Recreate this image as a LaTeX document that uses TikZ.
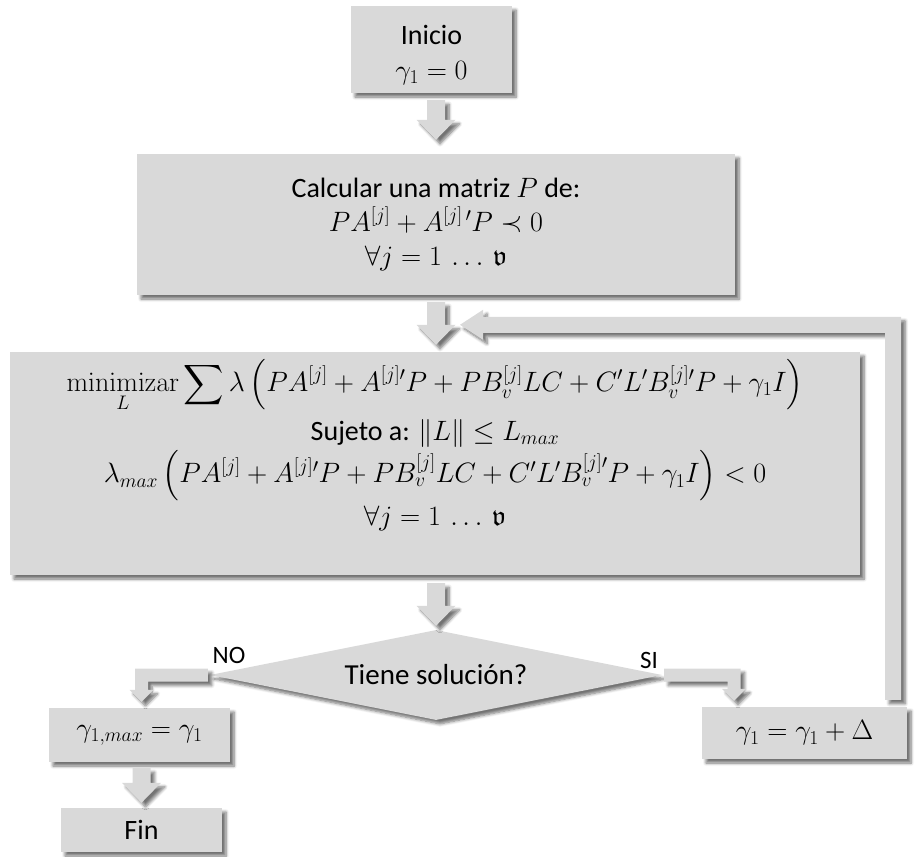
\RequirePackage{fix-cm}
\documentclass[tikz,border=0pt]{standalone}
\usepackage{amsmath,amssymb}
\usepackage[no-math]{fontspec}
\setmainfont{Carlito}
\usetikzlibrary{calc,shapes.geometric,shadows.blur}

% scalable fraktur for the vertex count symbol
\DeclareFontFamily{U}{euf}{}
\DeclareFontShape{U}{euf}{m}{n}{<->eufm10}{}
\DeclareFontShape{U}{euf}{b}{n}{<->eufb10}{}

\definecolor{boxgray}{RGB}{217,217,217}

\tikzset{
  softshadow/.style={blur shadow={shadow xshift=4pt, shadow yshift=-4pt,
      shadow blur radius=3pt, shadow blur steps=6, shadow opacity=55}},
  blk/.style={rectangle, fill=boxgray, softshadow, inner sep=0pt, align=center,
      font=\fontsize{28}{34}\selectfont},
  decision/.style={diamond, fill=boxgray, softshadow, inner sep=0pt, aspect=5,
      minimum width=452pt, minimum height=90pt, font=\fontsize{29}{34}\selectfont},
  arrowfill/.style={fill=boxgray, softshadow},
  lbl/.style={inner sep=0pt, font=\fontsize{25}{30}\selectfont}
}

% straight block arrow pointing down: #1 = top centre, #2 = tip
\newcommand\downblock[2]{%
  \path[arrowfill] let \p1=(#1), \p2=(#2) in
    (\x1-9pt,\y1) -- (\x1+9pt,\y1) -- (\x1+9pt,\y2+20pt) -- (\x1+19.5pt,\y2+20pt)
    -- (\x1,\y2) -- (\x1-19.5pt,\y2+20pt) -- (\x1-9pt,\y2+20pt) -- cycle;}

\begin{document}
\begin{tikzpicture}[x=1pt,y=-1pt]
\useasboundingbox (0,0) rectangle (916,857);

% process boxes
\node[blk, minimum width=161pt, minimum height=87pt] (start) at (431.5,49.5)
  {\rule{0pt}{30pt}Inicio\\[1pt] $\gamma_1=0$};
\node[blk, minimum width=598pt, minimum height=141pt] (calc) at (436,224.5)
  {Calcular una matriz $P$ de:\\
   $PA^{[j]}+A^{[j]\,\prime}P\prec 0$\\
   $\forall j=1\,\ldots\,\mathfrak{v}$};
\node[blk, minimum width=850pt, minimum height=223pt] (mini) at (435,463.5)
  {$\displaystyle\underset{L}{\mathrm{minimizar}}\sum\lambda\left(PA^{[j]}+A^{[j]\prime}P+PB_v^{[j]}LC+C'L'B_v^{[j]\prime}P+\gamma_1 I\right)$\\[6pt]
   Sujeto a: $\|L\|\le L_{max}$\\[2pt]
   $\lambda_{max}\left(PA^{[j]}+A^{[j]\prime}P+PB_v^{[j]}LC+C'L'B_v^{[j]\prime}P+\gamma_1 I\right)<0$\\[4pt]
   $\forall j=1\,\ldots\,\mathfrak{v}$\rule[-42pt]{0pt}{0pt}};
\node[decision] (dec) at (436,675) {Tiene solución?};
\node[blk, minimum width=181pt, minimum height=54pt] (gmax) at (139.5,735)
  {$\gamma_{1,max}=\gamma_1$};
\node[blk, minimum width=161pt, minimum height=44pt] (fin) at (141.5,830) {Fin};
\node[blk, minimum width=205pt, minimum height=52pt] (inc) at (804.5,733)
  {$\gamma_1=\gamma_1+\Delta$};

% branch labels
\node[lbl] (no) at (229,655) {NO};
\node[lbl] (si) at (649,660) {SI};

% main flow
\downblock{$(calc.north |- start.south)+(0,7)$}{$(calc.north)+(0,-14)$}
\downblock{$(calc.south)+(0,7)$}{$(mini.north)+(0,-7)$}
\downblock{$(dec.north |- mini.south)+(0,8)$}{$(dec.north)+(0,-4)$}
\downblock{$(fin.north |- gmax.south)+(0,6)$}{$(fin.north)+(0,-5)$}

% NO branch: left, then down into the result box
\path[arrowfill] let \p1=($(dec.west)+(-2,0)$), \p2=($(gmax.north)+(2,-6)$) in
  (\x1,\y1+6.5pt) -- (\x2-6.5pt,\y1+6.5pt) -- (\x2-6.5pt,\y2+12pt) -- (\x2-12pt,\y2+12pt)
  -- (\x2,\y2) -- (\x2+12pt,\y2+12pt) -- (\x2+6.5pt,\y2+12pt) -- (\x2+6.5pt,\y1-6.5pt)
  -- (\x1,\y1-6.5pt) -- cycle;

% SI branch: right, then down into the increment box
\path[arrowfill] let \p1=($(dec.east)+(2,0)$), \p2=($(inc.north)+(-70.5,-6)$) in
  (\x1,\y1+6.5pt) -- (\x2+6.5pt,\y1+6.5pt) -- (\x2+6.5pt,\y2+12pt) -- (\x2+12pt,\y2+12pt)
  -- (\x2,\y2) -- (\x2-12pt,\y2+12pt) -- (\x2-6.5pt,\y2+12pt) -- (\x2-6.5pt,\y1-6.5pt)
  -- (\x1,\y1-6.5pt) -- cycle;

% loop back from the increment box to the optimisation step
\path[arrowfill] let \p1=($(inc.north east)+(-14,-7)$), \p2=($(mini.north)+(25,-27)$) in
  (\x1-8pt,\y1) -- (\x1-8pt,\y2-8pt) -- (\x2+23pt,\y2-8pt) -- (\x2+23pt,\y2-15pt)
  -- (\x2,\y2) -- (\x2+23pt,\y2+15pt) -- (\x2+23pt,\y2+8pt) -- (\x1+8pt,\y2+8pt)
  -- (\x1+8pt,\y1) -- cycle;
\end{tikzpicture}
\end{document}
